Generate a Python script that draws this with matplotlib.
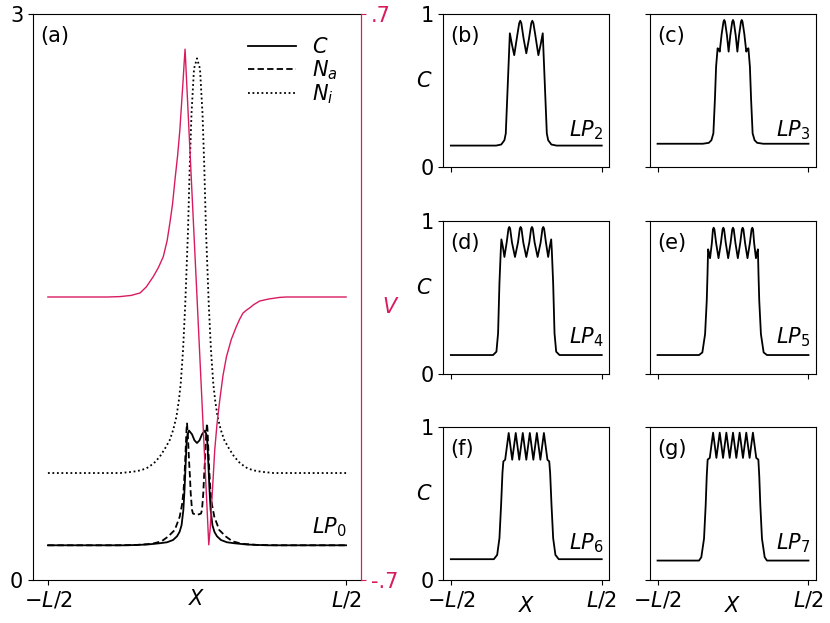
import matplotlib
matplotlib.use("Agg")
import matplotlib.pyplot as plt

plt.rcParams['font.family'] = ['DejaVu Sans']
plt.rcParams['font.size'] = 15
plt.rcParams['mathtext.fontset'] = 'dejavusans'

CRIMSON = '#d81b60'

# ---------------- panel (a) data ----------------
x_c0 = [-0.5, -0.2341, -0.1672, -0.1237, -0.1003, -0.0803, -0.0669, -0.0585, -0.0518,
        -0.0458, -0.0418, -0.0385, -0.0351, -0.0318, -0.0268, -0.0167, -0.0084, 0.0,
        0.0084, 0.0167, 0.0268, 0.0318, 0.0351, 0.0385, 0.0418, 0.0458, 0.0518, 0.0585,
        0.0669, 0.0803, 0.1003, 0.1237, 0.1672, 0.2341, 0.5]
c0 = [0.184, 0.184, 0.188, 0.195, 0.200, 0.212, 0.232, 0.255, 0.29,
      0.37, 0.48, 0.60, 0.72, 0.77, 0.792, 0.772, 0.74, 0.726,
      0.74, 0.772, 0.792, 0.77, 0.72, 0.60, 0.48, 0.37, 0.29, 0.255,
      0.232, 0.212, 0.200, 0.195, 0.188, 0.184, 0.184]

x_na0 = [-0.5, -0.2676, -0.2007, -0.1505, -0.119, -0.097, -0.0746, -0.0579, -0.0502, -0.0452,
         -0.0411, -0.0378, -0.0351, -0.0334, -0.0301, -0.0268, -0.0234, -0.0211, -0.0167,
         -0.0134, 0.0, 0.0134, 0.0167, 0.0211, 0.0234, 0.0268, 0.0301, 0.0334, 0.0351,
         0.0378, 0.0411, 0.0452, 0.0502, 0.0579, 0.0746, 0.097, 0.119, 0.1505, 0.2007,
         0.2676, 0.5]
na0 = [0.184, 0.184, 0.186, 0.192, 0.205, 0.23, 0.265, 0.336, 0.40, 0.47,
       0.58, 0.70, 0.80, 0.83, 0.75, 0.636, 0.54, 0.46, 0.371,
       0.352, 0.345, 0.352, 0.371, 0.46, 0.54, 0.636, 0.75, 0.83, 0.80,
       0.70, 0.58, 0.47, 0.40, 0.336, 0.265, 0.23, 0.205, 0.192, 0.186,
       0.184, 0.184]

x_ni0 = [-0.5, -0.2575, -0.214, -0.19, -0.1692, -0.145, -0.1247, -0.108, -0.0913, -0.08,
         -0.0689, -0.061, -0.0545, -0.0468, -0.0395, -0.0301, -0.0241, -0.0184, -0.01, 0.0,
         0.01, 0.0184, 0.0241, 0.0301, 0.0395, 0.0468, 0.0545, 0.061, 0.0689, 0.08, 0.0913,
         0.108, 0.1247, 0.145, 0.1692, 0.19, 0.214, 0.2575, 0.5]
ni0 = [0.567, 0.567, 0.574, 0.581, 0.592, 0.618, 0.654, 0.695, 0.742, 0.795,
       0.866, 0.95, 1.043, 1.219, 1.458, 1.855, 2.209, 2.474, 2.71, 2.765,
       2.71, 2.474, 2.209, 1.855, 1.458, 1.219, 1.043, 0.95, 0.866, 0.795, 0.742,
       0.695, 0.654, 0.618, 0.592, 0.581, 0.574, 0.567, 0.567]

x_v0 = [-0.5, -0.3, -0.258, -0.22, -0.191, -0.17, -0.147, -0.13, -0.113, -0.10, -0.091,
        -0.082, -0.074, -0.065, -0.0575, -0.052, -0.0465, -0.043, -0.040,
        0.0, 0.0395, 0.044, 0.0485, 0.054, 0.0595, 0.067, 0.0763, 0.087, 0.0987, 0.115,
        0.132, 0.143, 0.154, 0.165, 0.1766, 0.19, 0.21, 0.24, 0.277, 0.3, 0.5]
v0 = [0.0, 0.0, 0.001, 0.004, 0.010, 0.025, 0.050, 0.072, 0.100, 0.14, 0.183,
      0.23, 0.289, 0.35, 0.413, 0.475, 0.537, 0.58, 0.613,
      0.0, -0.613, -0.575, -0.519, -0.45, -0.378, -0.315, -0.255, -0.195, -0.148, -0.105,
      -0.073, -0.055, -0.04, -0.033, -0.027, -0.019, -0.01, -0.005, -0.001, 0.0, 0.0]

# ---------------- panels (b)-(g) data ----------------
x_lp2 = [-0.5, -0.2, -0.166, -0.145, -0.136, -0.127, -0.118, -0.109, -0.095, -0.08, -0.06,
         -0.047, -0.04, -0.033, -0.018, 0.0, 0.018, 0.033, 0.04, 0.047, 0.06, 0.08, 0.095,
         0.109, 0.118, 0.127, 0.136, 0.145, 0.166, 0.2, 0.5]
c_lp2 = [0.14, 0.14, 0.147, 0.175, 0.219, 0.437, 0.655, 0.874, 0.80, 0.731, 0.86,
         0.94, 0.956, 0.94, 0.84, 0.743, 0.84, 0.94, 0.956, 0.94, 0.86, 0.731, 0.80,
         0.874, 0.655, 0.437, 0.219, 0.175, 0.147, 0.14, 0.14]

x_lp3 = [-0.5, -0.2, -0.16, -0.143, -0.13, -0.12, -0.112, -0.102, -0.095, -0.088, -0.075,
         -0.063, -0.058, -0.053, -0.04, -0.029, -0.018, -0.005, 0.0, 0.005, 0.018, 0.029,
         0.04, 0.053, 0.058, 0.063, 0.075, 0.088, 0.095, 0.102, 0.112, 0.12, 0.13, 0.143,
         0.16, 0.2, 0.5]
c_lp3 = [0.152, 0.152, 0.158, 0.175, 0.22, 0.439, 0.656, 0.776, 0.77, 0.754, 0.87,
         0.95, 0.961, 0.95, 0.86, 0.754, 0.86, 0.95, 0.961, 0.95, 0.86, 0.754,
         0.86, 0.95, 0.961, 0.95, 0.87, 0.754, 0.77, 0.776, 0.656, 0.439, 0.22, 0.175,
         0.158, 0.152, 0.152]

x_lp4 = [-0.5, -0.22, -0.198, -0.187, -0.178, -0.169, -0.165, -0.155, -0.145, -0.13, -0.118,
         -0.1125, -0.107, -0.095, -0.075, -0.055, -0.043, -0.0375, -0.032, -0.02, 0.0,
         0.02, 0.032, 0.0375, 0.043, 0.055, 0.075, 0.095, 0.107, 0.1125, 0.118, 0.13,
         0.145, 0.155, 0.165, 0.169, 0.178, 0.187, 0.198, 0.22, 0.5]
c_lp4 = [0.124, 0.124, 0.146, 0.266, 0.593, 0.81, 0.88, 0.83, 0.765, 0.86, 0.95,
         0.961, 0.95, 0.86, 0.765, 0.86, 0.95, 0.961, 0.95, 0.86, 0.765,
         0.86, 0.95, 0.961, 0.95, 0.86, 0.765, 0.86, 0.95, 0.961, 0.95, 0.86,
         0.765, 0.83, 0.88, 0.81, 0.593, 0.266, 0.146, 0.124, 0.124]

x_lp5 = [-0.5, -0.225, -0.203, -0.185, -0.174, -0.169, -0.165, -0.158, -0.152, -0.14, -0.133,
         -0.128, -0.123, -0.112, -0.096, -0.08, -0.069, -0.064, -0.059, -0.048, -0.032,
         -0.016, -0.005, 0.0, 0.005, 0.016, 0.032, 0.048, 0.059, 0.064, 0.069, 0.08, 0.096,
         0.112, 0.123, 0.128, 0.133, 0.14, 0.152, 0.158, 0.165, 0.169, 0.174, 0.185, 0.203,
         0.225, 0.5]
c_lp5 = [0.124, 0.124, 0.141, 0.261, 0.478, 0.65, 0.815, 0.79, 0.757, 0.857, 0.945,
         0.956, 0.945, 0.857, 0.757, 0.857, 0.945, 0.956, 0.945, 0.857, 0.757,
         0.857, 0.945, 0.956, 0.945, 0.857, 0.757, 0.857, 0.945, 0.956, 0.945, 0.857, 0.757,
         0.857, 0.945, 0.956, 0.945, 0.857, 0.757, 0.79, 0.815, 0.65, 0.478, 0.261, 0.141,
         0.124, 0.124]

x_lp6 = [-0.5, -0.215, -0.193, -0.178, -0.167, -0.158, -0.152, -0.14, -0.1167, -0.0933, -0.07,
         -0.0467, -0.0233, 0.0, 0.0233, 0.0467, 0.07, 0.0933, 0.1167, 0.14, 0.152, 0.158,
         0.167, 0.178, 0.193, 0.215, 0.5]
c_lp6 = [0.136, 0.136, 0.164, 0.273, 0.491, 0.70, 0.775, 0.786, 0.961, 0.786, 0.961,
         0.786, 0.961, 0.786, 0.961, 0.786, 0.961, 0.786, 0.961, 0.786, 0.775, 0.70,
         0.491, 0.273, 0.164, 0.136, 0.136]

x_lp7 = [-0.5, -0.225, -0.21, -0.192, -0.181, -0.174, -0.168, -0.154, -0.132, -0.11, -0.088,
         -0.066, -0.044, -0.022, 0.0, 0.022, 0.044, 0.066, 0.088, 0.11, 0.132, 0.154, 0.168,
         0.174, 0.181, 0.192, 0.21, 0.225, 0.5]
c_lp7 = [0.127, 0.127, 0.149, 0.27, 0.49, 0.68, 0.787, 0.798, 0.963, 0.798, 0.963,
         0.798, 0.963, 0.798, 0.963, 0.798, 0.963, 0.798, 0.963, 0.798, 0.963, 0.798, 0.787,
         0.68, 0.49, 0.27, 0.149, 0.127, 0.127]

panel_tags = ['(b)', '(c)', '(d)', '(e)', '(f)', '(g)']
mode_labels = ['$LP_2$', '$LP_3$', '$LP_4$', '$LP_5$', '$LP_6$', '$LP_7$']
x_ticklabels = ['$-L/2$', '$L/2$']
legend_labels = ['$C$', '$N_a$', '$N_i$']

W, H = 830, 623
fig = plt.figure(figsize=(W / 100, H / 100), dpi=100)


def px_axes(left, top, width, height):
    return fig.add_axes([left / W, (H - top - height) / H, width / W, height / H])


def tag(ax, s):
    ax.annotate(s, xy=(0, 1), xycoords='axes fraction', xytext=(7, -12),
                textcoords='offset pixels', ha='left', va='top')


# ---------------- panel (a) ----------------
ax = px_axes(33, 14, 328, 566)
l1, = ax.plot(x_c0, c0, color='black', lw=1.3, ls='-')
l2, = ax.plot(x_na0, na0, color='black', lw=1.3, ls=(0, (3.5, 1.8)))
l3, = ax.plot(x_ni0, ni0, color='black', lw=1.3, ls=(0, (1, 1.5)))
ax.set_ylim(0, 3)
ax.set_yticks([0, 3])
ax.set_yticklabels(['0', '3'])
ax.set_xticks([-0.5, 0.5])
ax.set_xticklabels(x_ticklabels)
ax.spines['right'].set_color(CRIMSON)
tag(ax, '(a)')
ax.annotate('$LP_0$', xy=(1, 0), xycoords='axes fraction', xytext=(-14, 41),
            textcoords='offset pixels', ha='right', va='bottom')
ax.annotate('$X$', xy=(0.5, 0), xycoords='axes fraction', xytext=(0, -9),
            textcoords='offset pixels', ha='center', va='top')
ax.legend([l1, l2, l3], legend_labels, loc='upper right', frameon=False,
          handlelength=2.3, labelspacing=0.05, borderaxespad=0.7, handletextpad=0.8)

ax2 = ax.twinx()
ax2.plot(x_v0, v0, color=CRIMSON, lw=1.0)
ax2.set_ylim(-0.7, 0.7)
ax2.set_yticks([-0.7, 0.7])
ax2.set_yticklabels(['-.7', '.7'])
ax2.tick_params(axis='y', colors=CRIMSON)
for s in ['left', 'top', 'bottom']:
    ax2.spines[s].set_visible(False)
ax2.spines['right'].set_color(CRIMSON)
ax2.set_ylabel('$V$', rotation=0, color=CRIMSON, labelpad=-5)

# ---------------- panels (b)-(g) ----------------
xs = [x_lp2, x_lp3, x_lp4, x_lp5, x_lp6, x_lp7]
cs = [c_lp2, c_lp3, c_lp4, c_lp5, c_lp6, c_lp7]
lefts = [443.3, 650]
tops = [14, 221, 427]
for i in range(6):
    r, col = divmod(i, 2)
    a = px_axes(lefts[col], tops[r], 166, 153)
    a.plot(xs[i], cs[i], color='black', lw=1.3)
    a.set_ylim(0, 1)
    a.set_yticks([0, 1])
    a.set_xticks([-0.5, 0.5])
    if col == 0:
        a.set_yticklabels(['0', '1'])
        a.text(-0.116, 0.565, '$C$', transform=a.transAxes, ha='center', va='center')
    else:
        a.set_yticklabels([])
    if r == 2:
        a.set_xticklabels(x_ticklabels)
        a.annotate('$X$', xy=(0.5, 0), xycoords='axes fraction', xytext=(0, -16),
                   textcoords='offset pixels', ha='center', va='top')
    else:
        a.set_xticklabels([])
    tag(a, panel_tags[i])
    a.annotate(mode_labels[i], xy=(1, 0), xycoords='axes fraction', xytext=(-6, 25),
               textcoords='offset pixels', ha='right', va='bottom')

fig.savefig('out.png', dpi=100)
